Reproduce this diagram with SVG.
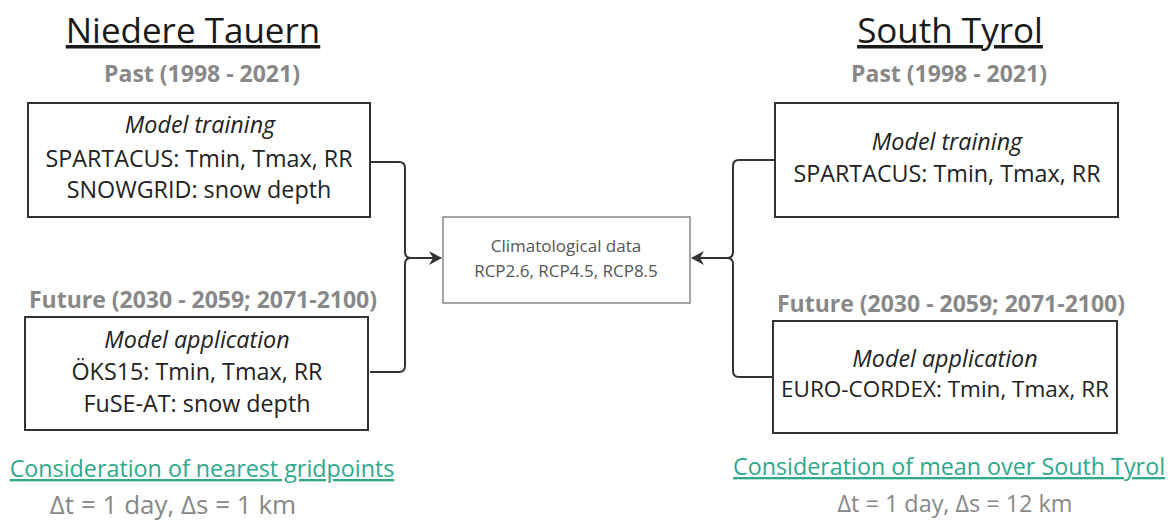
<svg xmlns="http://www.w3.org/2000/svg" width="1173" height="522" viewBox="0 0 1173 522">
<style>
text{font-family:"Open Sans","Liberation Sans",sans-serif;text-anchor:middle}
.title{font-size:35px;fill:#1a1a1a;text-decoration:underline}
.period{font-size:23px;font-weight:bold;fill:#888}
.box{fill:#fff;stroke:#333;stroke-width:2}
.cbox{fill:#fff;stroke:#888;stroke-width:1.5}
.bt{font-size:23.3px;fill:#222}
.it{font-style:italic}
.ct{font-size:17px;fill:#555}
.green{font-size:23.3px;fill:#2fa88c;text-decoration:underline}
.res{font-size:23.4px;fill:#888}
.conn{fill:none;stroke:#333;stroke-width:2}
</style>
<defs>
<marker id="arr" markerWidth="14" markerHeight="14" refX="12" refY="7" orient="auto" markerUnits="userSpaceOnUse">
<path d="M0,0 L13,7 L0,14 L4,7 Z" fill="#333"/>
</marker>
</defs>
<g id="connectors">
<path class="conn" d="M370,162 H399 Q405,162 405,168 V252 Q405,258 411,258 H441" marker-end="url(#arr)"/>
<path class="conn" d="M370,372 H399 Q405,372 405,366 V264 Q405,258 411,258 H441"/>
<path class="conn" d="M775,160 H739 Q733,160 733,166 V252 Q733,258 727,258 H692" marker-end="url(#arr)"/>
<path class="conn" d="M773,377 H739 Q733,377 733,371 V264 Q733,258 727,258 H692"/>
</g>
<g id="left-header">
<text class="title" x="193" y="43">Niedere Tauern</text>
<text class="period" x="202" y="82">Past (1998 - 2021)</text>
</g>
<g id="left-training">
<rect class="box" x="28" y="103" width="342" height="114"/>
<text class="bt it" x="200" y="133">Model training</text>
<text class="bt" x="199" y="167">SPARTACUS: Tmin, Tmax, RR</text>
<text class="bt" x="199" y="198">SNOWGRID: snow depth</text>
</g>
<g id="left-future">
<text class="period" x="203" y="308">Future (2030 - 2059; 2071-2100)</text>
<rect class="box" x="25" y="317" width="343" height="113"/>
<text class="bt it" x="197" y="348">Model application</text>
<text class="bt" x="197" y="380">ÖKS15: Tmin, Tmax, RR</text>
<text class="bt" x="197" y="412">FuSE-AT: snow depth</text>
</g>
<g id="left-notes">
<text class="green" x="202" y="477">Consideration of nearest gridpoints</text>
<text class="res" x="173" y="514" style="font-size:26px">Δt = 1 day, Δs = 1 km</text>
</g>
<g id="climate">
<rect class="cbox" x="443" y="217" width="247" height="86"/>
<text class="ct" x="566" y="252">Climatological data</text>
<text class="ct" x="566" y="277">RCP2.6, RCP4.5, RCP8.5</text>
</g>
<g id="right-header">
<text class="title" x="950" y="43">South Tyrol</text>
<text class="period" x="949" y="82">Past (1998 - 2021)</text>
</g>
<g id="right-training">
<rect class="box" x="775" y="103" width="343" height="114"/>
<text class="bt it" x="947" y="150">Model training</text>
<text class="bt" x="947" y="182">SPARTACUS: Tmin, Tmax, RR</text>
</g>
<g id="right-future">
<text class="period" x="951" y="312">Future (2030 - 2059; 2071-2100)</text>
<rect class="box" x="773" y="321" width="344" height="112"/>
<text class="bt it" x="945" y="367">Model application</text>
<text class="bt" x="945" y="397" style="font-size:22.5px">EURO-CORDEX: Tmin, Tmax, RR</text>
</g>
<g id="right-notes">
<text class="green" x="949" y="475">Consideration of mean over South Tyrol</text>
<text class="res" x="955" y="512">Δt = 1 day, Δs = 12 km</text>
</g>
</svg>
